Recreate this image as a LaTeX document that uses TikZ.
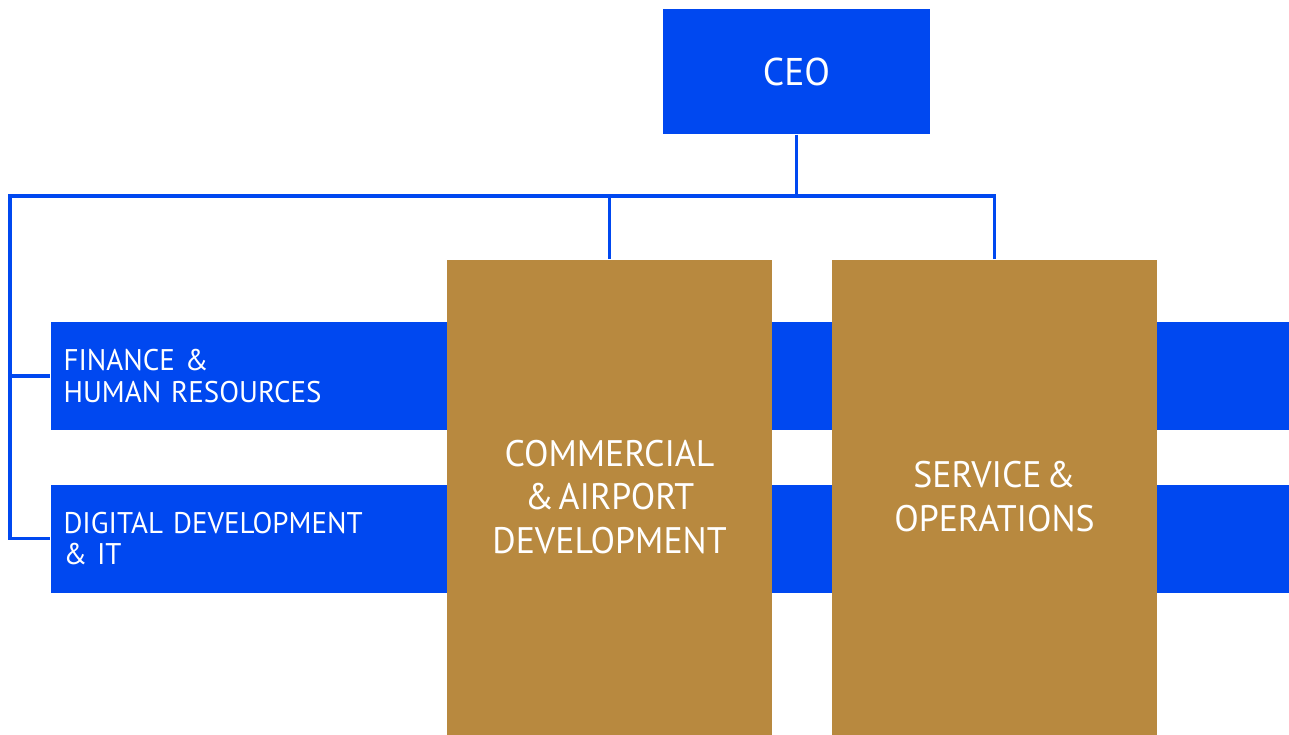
\documentclass[tikz,border=0pt]{standalone}
\usepackage{fontspec}
\setmainfont[WordSpace=0.5, FakeStretch=0.97]{PT Sans}
\usepackage{tikz}
\usetikzlibrary{positioning}
\definecolor{cphblue}{HTML}{0048F0}
\definecolor{cphgold}{HTML}{B8893F}

\begin{document}
\begin{tikzpicture}[semithick,
    link/.style={draw=cphblue, line width=1.9pt},
    head/.style={fill=cphblue, text=white, minimum width=5.34cm, minimum height=2.5cm, font=\fontsize{22}{26}\selectfont},
    bar/.style={fill=cphblue, text=white, anchor=west, minimum height=2.16cm, inner xsep=0.26cm, text width=24.26cm, align=left, font=\fontsize{17}{18}\selectfont},
    unit/.style={fill=cphgold, text=white, anchor=north, minimum width=6.5cm, minimum height=9.5cm, align=center, font=\fontsize{21}{25}\selectfont}]
    \useasboundingbox (0,0) rectangle (25.78,-14.68);
    \node[head] (ceo) at (15.93,-1.43) {CEO};
    \coordinate (busL) at (0.2,-3.92);
    \node[bar] (fin) at (1.0,-7.52) {FINANCE \&\\HUMAN RESOURCES};
    \node[bar] (dig) at (1.0,-10.77) {DIGITAL DEVELOPMENT\\\& IT};
    \node[unit] (com) at (12.19,-5.18) {COMMERCIAL\\\& AIRPORT\\DEVELOPMENT};
    \node[unit] (srv) at (19.89,-5.18) {SERVICE \&\\OPERATIONS};
    % lines to the boxes
    \draw[link] (ceo.south) -- (ceo.south |- busL);
    \draw[link] (srv.north) |- (busL) |- (dig.west);
    \draw[link] (com.north) -- (com.north |- busL);
    \draw[link] (busL |- fin.west) -- (fin.west);
\end{tikzpicture}
\end{document}
